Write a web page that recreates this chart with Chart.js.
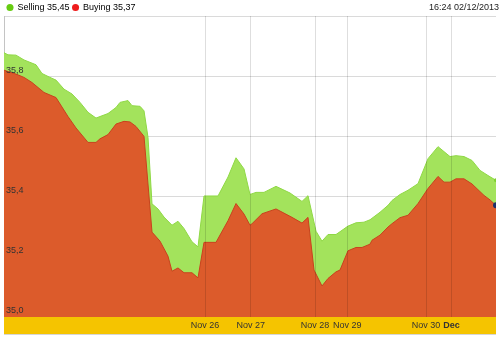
<!DOCTYPE html>
<html>
<head>
<meta charset="utf-8">
<script src="https://cdn.jsdelivr.net/npm/chart.js@4.4.0/dist/chart.umd.min.js"></script>
<style>
  html, body { margin: 0; padding: 0; background: #fff; }
</style>
</head>
<body>
<canvas id="chart" width="500" height="337"></canvas>
<script>
// day boundaries on the sample axis
const dayLabels = ['Nov 26', 'Nov 27', 'Nov 28', 'Nov 29', 'Nov 30', 'Dec'];
const dayPos = [50.25, 61.7, 77.75, 85.8, 105.5, 111.9];

// selling quote (sample index / value)
const sellIdx = [0, 1, 3, 5, 8, 9.5, 11.5, 13, 15, 17, 19, 21, 23, 26, 28, 29, 31, 32, 34, 35,
  36, 37, 38.5, 40, 42, 43.5, 45, 47, 48.5, 50, 53.5, 56, 58, 60, 61.5, 63, 65, 68, 71.5, 74.5,
  76, 78, 79.5, 81, 83, 86, 88, 90, 91.5, 94, 96, 97, 99, 101, 103.5, 106, 108.5, 111.5, 113, 115,
  117, 119, 121, 123];
const sellVal = [35.878, 35.871, 35.870, 35.854, 35.838, 35.809, 35.796, 35.787, 35.757, 35.741,
  35.713, 35.680, 35.661, 35.676, 35.696, 35.713, 35.719, 35.702, 35.700, 35.685,
  35.597, 35.376, 35.359, 35.332, 35.305, 35.318, 35.294, 35.250, 35.233, 35.402,
  35.402, 35.465, 35.529, 35.492, 35.407, 35.414, 35.414, 35.434, 35.412, 35.384,
  35.403, 35.285, 35.252, 35.274, 35.274, 35.302, 35.313, 35.315, 35.323, 35.348,
  35.371, 35.387, 35.407, 35.421, 35.443, 35.526, 35.566, 35.533, 35.536, 35.533,
  35.520, 35.487, 35.470, 35.454];

// buying quote
const buyIdx = [0, 3, 5, 7, 10, 13, 16, 18, 21, 23, 24, 26, 28, 30, 31.5, 33, 35, 37, 39, 41,
  42, 43.5, 45, 47, 48.5, 50, 53, 56, 58, 60, 61.5, 62, 64.5, 68, 72, 74.5, 76, 77.5, 79.5, 81,
  83, 84, 86, 88, 89.5, 91.5, 92, 94, 96, 97, 99, 101, 103.5, 106, 108.5, 110, 111.5, 113, 115, 117,
  120, 121.5, 123];
const buyVal = [35.820, 35.807, 35.796, 35.779, 35.746, 35.729, 35.666, 35.628, 35.580, 35.580,
  35.592, 35.606, 35.641, 35.650, 35.648, 35.633, 35.600, 35.282, 35.252, 35.202,
  35.152, 35.163, 35.147, 35.147, 35.130, 35.248, 35.248, 35.320, 35.377, 35.342,
  35.305, 35.310, 35.343, 35.359, 35.331, 35.312, 35.331, 35.156, 35.103, 35.128,
  35.150, 35.156, 35.220, 35.231, 35.231, 35.242, 35.255, 35.272, 35.299, 35.310,
  35.330, 35.338, 35.377, 35.427, 35.467, 35.448, 35.448, 35.459, 35.459, 35.442,
  35.404, 35.389, 35.371];

const stamp = '16:24 02/12/2013';
const FONT = "'Liberation Sans', Arial, sans-serif";

const toPoints = (xs, ys) => xs.map((x, i) => ({ x: x, y: ys[i] }));
const comma = (v, d) => v.toFixed(d).replace('.', ',');
const lastDot = (n, r) => ctx => (ctx.dataIndex === n - 1 ? r : 0);

const stampPlugin = {
  id: 'stamp',
  afterDraw(chart) {
    const ctx = chart.ctx;
    ctx.save();
    ctx.font = '9px ' + FONT;
    ctx.fillStyle = '#222';
    ctx.textAlign = 'right';
    ctx.textBaseline = 'middle';
    ctx.fillText(stamp, 499, 8);
    // thin rule under the date band
    ctx.strokeStyle = '#d6d6d6';
    ctx.lineWidth = 1;
    ctx.beginPath();
    ctx.moveTo(chart.chartArea.left, 334.5);
    ctx.lineTo(chart.chartArea.right, 334.5);
    ctx.stroke();
    ctx.restore();
  }
};

// eslint-disable-next-line no-unused-vars
const quoteChart = new Chart(document.getElementById('chart'), {
  type: 'line',
  data: {
    datasets: [{
      label: 'Selling',
      data: toPoints(sellIdx, sellVal),
      order: 1,
      fill: 'start',
      backgroundColor: '#a3e35c',
      borderColor: '#8fd845',
      borderWidth: 1,
      pointRadius: lastDot(sellIdx.length, 2),
      pointBackgroundColor: '#7fd030',
      pointBorderWidth: 0
    }, {
      label: 'Buying',
      data: toPoints(buyIdx, buyVal),
      order: 0,
      fill: 'start',
      backgroundColor: '#dc5b2b',
      borderColor: '#c9421e',
      borderWidth: 1,
      pointRadius: lastDot(buyIdx.length, 3),
      pointBackgroundColor: '#1c2f6a',
      pointBorderWidth: 0
    }]
  },
  options: {
    responsive: false,
    animation: false,
    layout: { padding: { left: 4, right: 4, bottom: 3 } },
    plugins: {
      tooltip: { enabled: false },
      legend: {
        position: 'top',
        align: 'start',
        maxHeight: 16,
        labels: {
          usePointStyle: true,
          boxWidth: 6,
          boxHeight: 5,
          padding: 3,
          color: '#222',
          font: { size: 9, family: FONT },
          generateLabels: () => [
            { text: 'Selling ' + comma(sellVal[sellVal.length - 1], 2), fillStyle: '#66cc11', strokeStyle: '#66cc11', lineWidth: 0, pointStyle: 'circle', datasetIndex: 0 },
            { text: 'Buying ' + comma(buyVal[buyVal.length - 1], 2), fillStyle: '#ee1c1c', strokeStyle: '#ee1c1c', lineWidth: 0, pointStyle: 'circle', datasetIndex: 1 }
          ]
        }
      }
    },
    scales: {
      x: {
        type: 'linear',
        min: 0,
        max: 123,
        backgroundColor: '#f5c400',
        border: { display: false },
        grid: { color: 'rgba(0,0,0,0.13)', drawTicks: false, z: 1 },
        afterBuildTicks: s => { s.ticks = dayPos.map(v => ({ value: v })); },
        afterFit: s => { s.height = 17; },
        ticks: {
          z: 1,
          autoSkip: false,
          maxRotation: 0,
          padding: 3,
          color: '#333',
          font: ctx => ({ size: 9, family: FONT, weight: ctx.index === dayLabels.length - 1 ? 'bold' : 'normal' }),
          callback: (v, i) => dayLabels[i]
        }
      },
      y: {
        min: 35,
        max: 36,
        border: { display: true, color: '#c4c4c4' },
        grid: { color: '#dadada', drawTicks: false },
        afterFit: s => { s.width = 0; },
        ticks: {
          stepSize: 0.2,
          mirror: true,
          padding: 2,
          labelOffset: -6,
          z: 1,
          color: '#333',
          font: { size: 9, family: FONT },
          callback: v => (v > 35.9 ? '' : comma(v, 1))
        }
      }
    }
  },
  plugins: [stampPlugin]
});
</script>
</body>
</html>
